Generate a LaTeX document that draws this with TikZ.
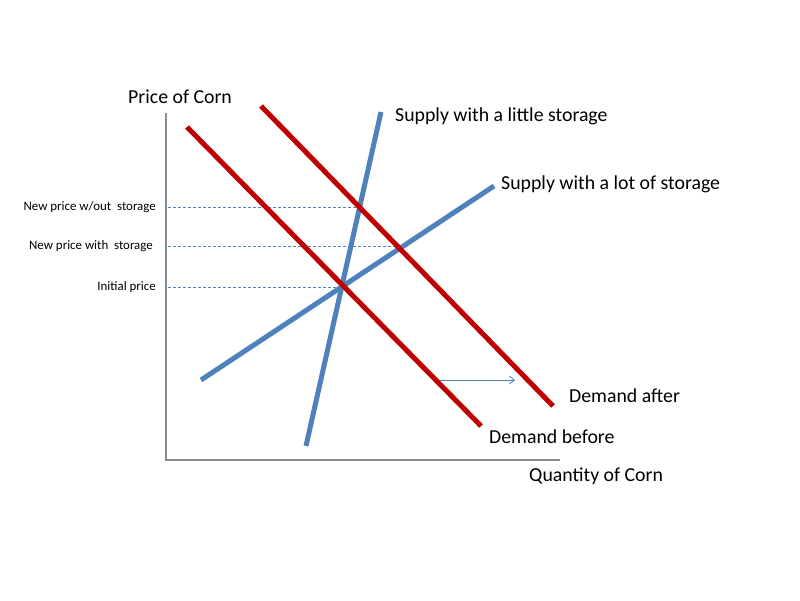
\documentclass[tikz,border=0pt]{standalone}
\usepackage{fontspec}
\setmainfont{Carlito}
\usetikzlibrary{arrows.meta}
\definecolor{dred}{HTML}{C00000}
\definecolor{sblue}{HTML}{4F81BD}
\definecolor{axgray}{HTML}{8C8C8C}
\begin{document}
\begin{tikzpicture}[x=1pt,y=-1pt,
  axis/.style={draw=axgray,line width=1.3pt},
  demand/.style={draw=dred,line width=5pt},
  supply/.style={draw=sblue,line width=5pt},
  guide/.style={draw=sblue,line width=0.8pt,dash pattern=on 3pt off 2pt},
  biglbl/.style={font=\fontsize{19.8}{23}\selectfont,inner sep=0pt},
  smalllbl/.style={font=\fontsize{12.9}{15}\selectfont,inner sep=0pt,anchor=east}]
\fill[white] (0,0) rectangle (800,600);
\useasboundingbox (0,0) rectangle (800,600);
% axes
\coordinate (O) at (166,460);
\coordinate (ytop) at (166,113);
\coordinate (xend) at (560,460);
\draw[axis] (ytop) -- (O) -- (xend);
% guide coordinates
\coordinate (g1a) at (168,207); \coordinate (g1b) at (360,207);
\coordinate (g2a) at (168,246); \coordinate (g2b) at (400,246);
\coordinate (g3a) at (168,287); \coordinate (g3b) at (342,287);
\draw[guide] (g1a) -- (g1b);
\draw[guide] (g2a) -- (g2b);
\draw[guide] (g3a) -- (g3b);
% curves
\coordinate (sl1) at (306,446); \coordinate (sl2) at (381,112);
\coordinate (sb1) at (201,380); \coordinate (sb2) at (494,186);
\coordinate (db1) at (187,127); \coordinate (db2) at (481,426);
\coordinate (da1) at (261,106); \coordinate (da2) at (553,406);
\draw[supply] (sb1) -- (sb2);
\draw[supply] (sl1) -- (sl2);
\draw[demand] (db1) -- (db2);
\draw[demand] (da1) -- (da2);
% shift arrow
\coordinate (ar1) at (440,380); \coordinate (ar2) at (515,380);
\draw[sblue,line width=0.8pt,-{Straight Barb[length=5pt,width=8pt]}] (ar1) -- (ar2);
% labels
\node[biglbl,anchor=west] (pc) at (128,97) {Price of Corn};
\node[biglbl,anchor=west] (qc) at (529,476) {Quantity of Corn};
\node[biglbl,anchor=west] (slt) at (395,116) {Supply with a little storage};
\node[biglbl,anchor=west] (slot) at (501,184) {Supply with a lot of storage};
\node[biglbl,anchor=west] (dal) at (569,396) {Demand after};
\node[biglbl,anchor=west] (dbl) at (489,437) {Demand before};
\node[smalllbl] (l1) at (156,207) {New price w/out\ \ storage};
\node[smalllbl] (l2) at (153,246) {New price with\ \ storage};
\node[smalllbl] (l3) at (156,287) {Initial price};
\end{tikzpicture}
\end{document}
